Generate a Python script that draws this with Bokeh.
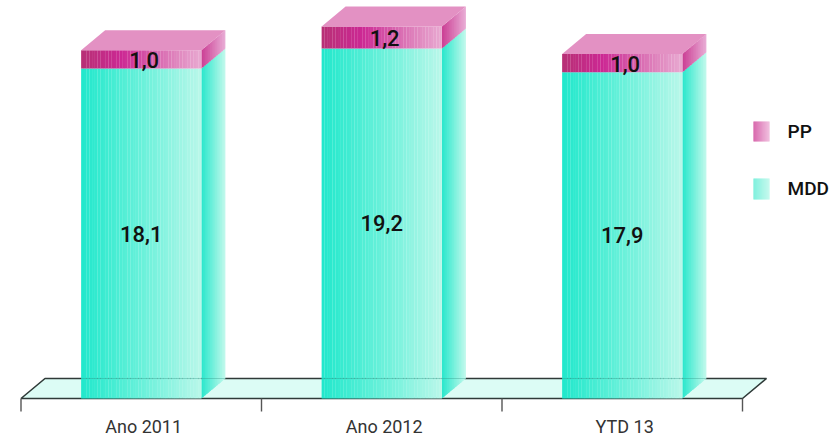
from bokeh.embed import file_html
from bokeh.models import Range1d
from bokeh.plotting import figure
from bokeh.resources import INLINE

categories = ["Ano 2011", "Ano 2012", "YTD 13"]
mdd = [18.1, 19.2, 17.9]
pp = [1.0, 1.2, 1.0]
mdd_labels = ["18,1", "19,2", "17,9"]
pp_labels = ["1,0", "1,2", "1,0"]
legend_names = ["PP", "MDD"]

W, H = 836, 441
AXIS_LEFT, AXIS_RIGHT, BASE_Y = 20.5, 742.0, 398.0
SLOT = (AXIS_RIGHT - AXIS_LEFT) / len(categories)
UNIT = 18.23  # pixels per value unit
BAR_WIDTH = 0.5
DEPTH_X = 24 / SLOT
DEPTH_Y = 20 / UNIT
FONT = "Roboto"
FONT_STRONG = "Roboto Medium"

p = figure(
    width=W, height=H, output_backend="svg", toolbar_location=None,
    x_range=Range1d(-AXIS_LEFT / SLOT, (W - AXIS_LEFT) / SLOT),
    y_range=Range1d(-(H - BASE_Y) / UNIT, BASE_Y / UNIT),
    min_border=0,
)
p.axis.visible = False
p.grid.visible = False
p.outline_line_color = None
p.background_fill_color = "white"


def mix(a, b, t):
    return "#" + "".join(f"{round(x + (y - x) * t):02x}" for x, y in zip(a, b))


def ramp(stops, t):
    """Colour at position t along evenly spaced colour stops."""
    n = len(stops) - 1
    k = min(int(t * n), n - 1)
    return mix(stops[k], stops[k + 1], t * n - k)


def shaded_box(x0, x1, y0, y1, stops, steps=44):
    """Front face of a bar, built from narrow vertical shaded strips."""
    w = (x1 - x0) / steps
    ls = [x0 + i * w for i in range(steps)]
    rs = [min(x1, v + w * 1.05) for v in ls]
    cols = [ramp(stops, i / (steps - 1)) for i in range(steps)]
    p.quad(left=ls, right=rs, bottom=y0, top=y1, fill_color=cols, line_color=None)


def shaded_side(x, y0, y1, stops, steps=14):
    """Right-hand face of a bar, receding up and to the right."""
    xs, ys, cols = [], [], []
    for i in range(steps):
        a, b = i / steps, min(1.0, (i + 1.6) / steps)
        xs.append([x + a * DEPTH_X, x + b * DEPTH_X, x + b * DEPTH_X, x + a * DEPTH_X])
        ys.append([y0 + a * DEPTH_Y, y0 + b * DEPTH_Y, y1 + b * DEPTH_Y, y1 + a * DEPTH_Y])
        cols.append(ramp(stops, i / (steps - 1)))
    p.patches(xs, ys, fill_color=cols, line_color=None)


MDD_FRONT = [(34, 232, 204), (80, 238, 213), (130, 243, 223), (184, 247, 233)]
MDD_SIDE = [(46, 232, 205), (190, 248, 235)]
PP_FRONT = [(184, 48, 118), (204, 40, 148), (218, 110, 178), (232, 168, 208)]
PP_SIDE = [(204, 66, 150), (232, 170, 212)]
PP_TOP = "#e391c3"

# Floor of the chart, with its outline
span = len(categories)
p.patch([0, span, span + DEPTH_X, DEPTH_X], [0, 0, DEPTH_Y, DEPTH_Y],
        fill_color="#dcfcf5", line_color=None)
p.line([0, DEPTH_X, span + DEPTH_X, span, 0], [0, DEPTH_Y, DEPTH_Y, 0, 0],
       line_color="#2f3a38", line_width=1.6)

# Tick marks under the floor
tick_x = list(range(span + 1))
p.segment(x0=tick_x, x1=tick_x, y0=0, y1=-13 / UNIT, line_color="#555555", line_width=1.4)

# Stacked 3D columns
for i, (m, q) in enumerate(zip(mdd, pp)):
    x0 = i + (1 - BAR_WIDTH) / 2
    x1 = x0 + BAR_WIDTH
    shaded_side(x1, 0, m, MDD_SIDE)
    shaded_side(x1, m, m + q, PP_SIDE)
    shaded_box(x0, x1, 0, m, MDD_FRONT)
    shaded_box(x0, x1, m, m + q, PP_FRONT)
    top = m + q
    p.patch([x0, x1, x1 + DEPTH_X, x0 + DEPTH_X], [top, top, top + DEPTH_Y, top + DEPTH_Y],
            fill_color=PP_TOP, line_color=None)
    # back edge of the floor showing faintly through the column
    p.line([x0, x1 + DEPTH_X], [DEPTH_Y, DEPTH_Y], line_color="#2f8f80",
           line_alpha=0.35, line_width=1)

    cx = i + 0.5
    p.text([cx], [m / 2], text=[mdd_labels[i]], text_align="center",
           text_baseline="middle", text_font_size="22px", text_color="#111111",
           text_font={"value": FONT_STRONG})
    p.text([cx + 0.012], [m + q / 2 - 0.03], text=[pp_labels[i]], text_align="center",
           text_baseline="middle", text_font_size="22px", text_color="#111111",
           text_font={"value": FONT_STRONG})
    p.text([cx + 0.01], [-28 / UNIT], text=[categories[i]], text_align="center",
           text_baseline="middle", text_font_size="18px", text_color="#333333",
           text_font={"value": FONT})


# Legend, placed beside the columns
def to_x(px):
    return (px - AXIS_LEFT) / SLOT


def to_y(py):
    return (BASE_Y - py) / UNIT


shaded_box(to_x(753), to_x(769), to_y(141), to_y(121),
           [(205, 64, 150), (236, 170, 212)], steps=16)
shaded_box(to_x(753), to_x(769), to_y(199), to_y(178),
           [(92, 236, 212), (180, 247, 232)], steps=16)
p.text([to_x(787), to_x(787)], [to_y(131), to_y(188)], text=legend_names,
       text_align="left", text_baseline="middle", text_font_size="19px",
       text_color="#111111", text_font={"value": FONT_STRONG})

open("out.html", "w").write(file_html(p, INLINE))
